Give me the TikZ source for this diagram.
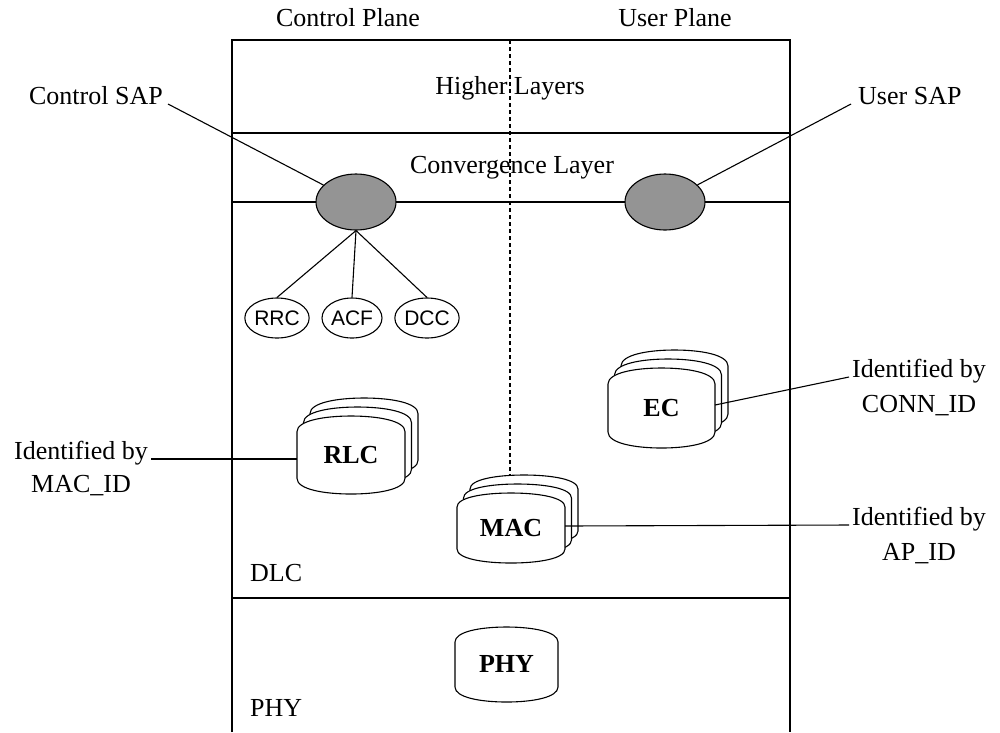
\documentclass[tikz,border=0pt]{standalone}
\usepackage{fontspec}
\setmainfont{Liberation Serif}
\newfontfamily\arialf{Liberation Sans}
\usetikzlibrary{shapes.geometric,calc}
\newcommand\pil[4]{%
 \pgfmathsetmacro\pilL{#1}\pgfmathsetmacro\pilT{#2}%
 \pgfmathsetmacro\pilR{#3}\pgfmathsetmacro\pilB{#4}%
 \pgfmathsetmacro\pilM{(\pilL+\pilR)/2}%
 \pgfmathsetmacro\pilc{0.2*(\pilB-\pilT)}%
 \pgfmathsetmacro\pild{0.25*(\pilR-\pilL)}%
 \path[pillow] (\pilL,{\pilT+\pilc}) .. controls (\pilL,{\pilT+0.3*\pilc}) and ({\pilL+\pild},\pilT) .. (\pilM,\pilT)
  .. controls ({\pilR-\pild},\pilT) and (\pilR,{\pilT+0.3*\pilc}) .. (\pilR,{\pilT+\pilc})
  -- (\pilR,{\pilB-\pilc}) .. controls (\pilR,{\pilB-0.3*\pilc}) and ({\pilR-\pild},\pilB) .. (\pilM,\pilB)
  .. controls ({\pilL+\pild},\pilB) and (\pilL,{\pilB-0.3*\pilc}) .. (\pilL,{\pilB-\pilc}) -- cycle;}
\newcommand\pilstack[4]{\pil{#1+13}{#2-18}{#3+13}{#4-18}\pil{#1+6.5}{#2-9}{#3+6.5}{#4-9}\pil{#1}{#2}{#3}{#4}}
\begin{document}
\begin{tikzpicture}[x=1pt,y=-1pt,
  lbl/.style={font=\fontsize{26}{31}\selectfont, inner sep=0pt},
  bld/.style={font=\fontsize{26}{31}\selectfont\bfseries, inner sep=0pt},
  fn/.style={ellipse, draw, line width=1.1pt, minimum width=60pt, minimum height=40pt, inner sep=0pt, font=\arialf\fontsize{21}{25}\selectfont},
  sap/.style={ellipse, draw, line width=1.1pt, fill=black!42, minimum width=80pt, minimum height=56pt, inner sep=0pt},
  ln/.style={line width=1.1pt},
  pillow/.style={draw, fill=white, line width=1.1pt, line join=round}]
\useasboundingbox (0,0) rectangle (1000,732);
\fill[white] (0,0) rectangle (1000,732);
% frame
\draw[ln] (232,732) -- (232,40) -- (790,40) -- (790,732);
\draw[ln] (232,133) -- (790,133);
\draw[ln] (232,202) -- (790,202);
\draw[ln] (232,598) -- (790,598);
\draw[ln, dash pattern=on 4pt off 3pt] (510,40) -- (510,485);
% plane titles and layers
\node[lbl] (cp) at (348,18) {Control Plane};
\node[lbl] (up) at (675,18) {User Plane};
\node[lbl] (hl) at (510,88) {Higher Layers};
\node[lbl] (cl) at (512,168) {Convergence Layer};
\node[lbl, anchor=base west] (dlc) at (250,581) {DLC};
\node[lbl, anchor=base west] (phyl) at (250,716) {PHY};
% SAPs
\node[sap] (csap) at (356,202) {};
\node[sap] (usap) at (665,202) {};
\node[lbl, anchor=base east] (csapl) at (163,104) {Control SAP};
\node[lbl, anchor=base west] (usapl) at (858,104) {User SAP};
\draw[ln] ([shift={(5,0)}]csapl.base east) -- (csap);
\draw[ln] ([shift={(-7,0)}]usapl.base west) -- (usap);
% control functions
\node[fn] (rrc) at (277,318) {RRC};
\node[fn] (acf) at (352,318) {ACF};
\node[fn] (dcc) at (427,318) {DCC};
\draw[ln] (csap.south) -- (rrc.north);
\draw[ln] (csap.south) -- (acf.north);
\draw[ln] (csap.south) -- (dcc.north);
% entity stacks
\pilstack{297}{416}{405}{494}
\node[bld] (rlc) at (351,455) {RLC};
\pilstack{608}{368}{715}{448}
\node[bld] (ec) at (661.5,408) {EC};
\pilstack{457}{493}{565}{563}
\node[bld] (mac) at (511,528) {MAC};
\pil{455}{627}{558}{702}
\node[bld] (phy) at (506.5,664) {PHY};
\coordinate (rlcL) at (297,459);
\coordinate (ecR) at (715,405);
\coordinate (macR) at (565,526);
% identification labels
\node[lbl, anchor=base east] (idm1) at (148,459) {Identified by};
\node[lbl, anchor=base] (idm2) at ($(idm1.base)+(0,33)$) {MAC\_ID};
\draw[ln] ([shift={(3,0)}]idm1.base east) -- (rlcL);
\node[lbl, anchor=base west] (idc1) at (852,377) {Identified by};
\node[lbl, anchor=base] (idc2) at ($(idc1.base)+(0,35)$) {CONN\_ID};
\draw[ln] (ecR) -- ([shift={(-3,0)}]idc1.base west);
\node[lbl, anchor=base west] (ida1) at (852,525) {Identified by};
\node[lbl, anchor=base] (ida2) at ($(ida1.base)+(0,35)$) {AP\_ID};
\draw[ln] (macR) -- ([shift={(-3,0)}]ida1.base west);
\end{tikzpicture}
\end{document}
